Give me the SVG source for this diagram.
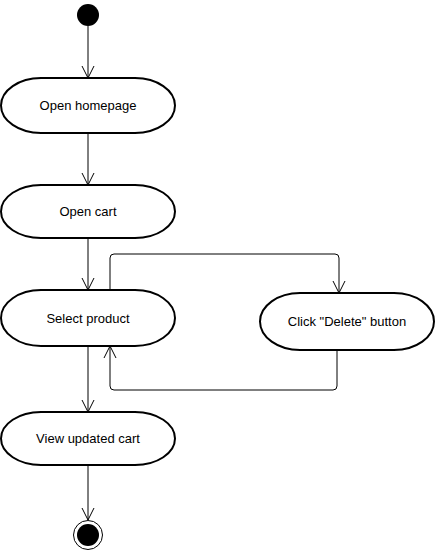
<svg xmlns="http://www.w3.org/2000/svg" width="435" height="551" viewBox="0 0 435 551">
<style>
.node{fill:#fff;stroke:#000;stroke-width:2}
.lbl{font-family:"Liberation Sans",Arial,sans-serif;font-size:13px;fill:#000;text-anchor:middle;dominant-baseline:central}
.edge{fill:none;stroke:#000;stroke-width:1}
.head{fill:none;stroke:#000;stroke-width:1}
</style>
<rect width="435" height="551" fill="#fff"/>
<g id="connectors">
<path class="edge" d="M88,26 V78"/><path class="head" d="M82,66 L88,78 L94,66"/>
<path class="edge" d="M88,133 V185"/><path class="head" d="M82,173 L88,185 L94,173"/>
<path class="edge" d="M88,238 V290"/><path class="head" d="M82,278 L88,290 L94,278"/>
<path class="edge" d="M88,346 V412"/><path class="head" d="M82,400 L88,412 L94,400"/>
<path class="edge" d="M88,464 V520"/><path class="head" d="M82,508 L88,520 L94,508"/>
<path class="edge" d="M110,290 V258 Q110,254 114,254 H335 Q339,254 339,258 V293"/><path class="head" d="M333,281 L339,293 L345,281"/>
<path class="edge" d="M337,350 V386 Q337,390 333,390 H114 Q110,390 110,386 V346"/><path class="head" d="M104,358 L110,346 L116,358"/>
</g>
<g id="start"><circle cx="88" cy="15" r="11" fill="#000"/></g>
<g id="open-homepage"><rect class="node" x="1" y="78" width="174" height="55" rx="40" ry="27.5"/><text class="lbl" x="88" y="105.5">Open homepage</text></g>
<g id="open-cart"><rect class="node" x="1" y="185" width="174" height="53" rx="40" ry="26.5"/><text class="lbl" x="88" y="211.5">Open cart</text></g>
<g id="select-product"><rect class="node" x="1" y="290" width="174" height="56" rx="40" ry="28"/><text class="lbl" x="88" y="318">Select product</text></g>
<g id="click-delete"><rect class="node" x="260" y="293" width="174" height="57" rx="40" ry="28.5"/><text class="lbl" x="347" y="321.5">Click "Delete" button</text></g>
<g id="view-updated-cart"><rect class="node" x="1" y="412" width="174" height="53" rx="40" ry="26.5"/><text class="lbl" x="88" y="438.5">View updated cart</text></g>
<g id="end"><circle cx="88" cy="535" r="14.5" fill="#fff" stroke="#000" stroke-width="1"/><circle cx="88" cy="535" r="11" fill="#000"/></g>
</svg>
